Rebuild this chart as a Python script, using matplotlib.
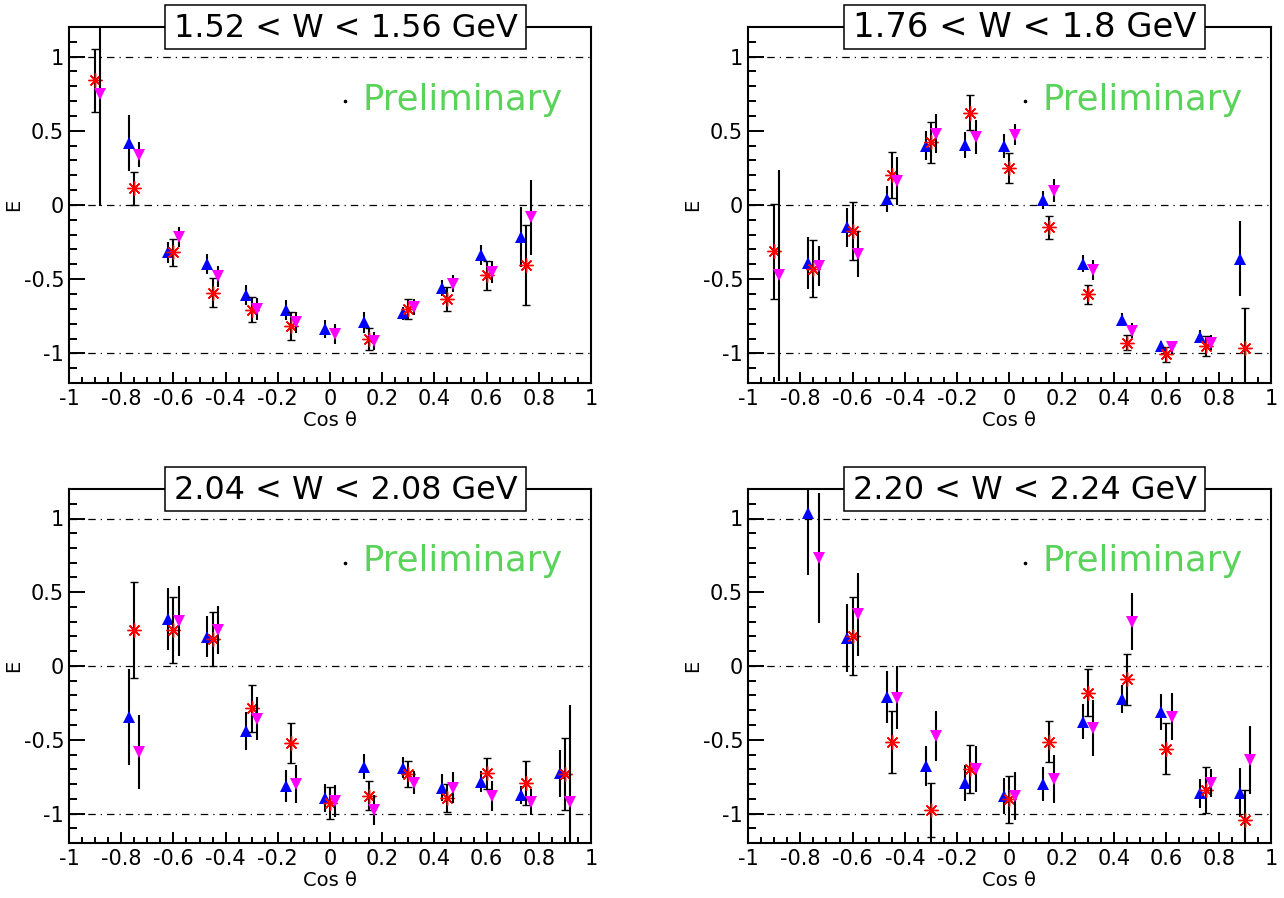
import numpy as np
import matplotlib
matplotlib.use("Agg")
import matplotlib.pyplot as plt
from matplotlib.patches import Rectangle

plt.rcParams['font.family'] = ['DejaVu Sans']
plt.rcParams['axes.unicode_minus'] = False

nan = np.nan

# cos(theta) bin centres
cos_bins = [-0.9, -0.75, -0.6, -0.45, -0.3, -0.15, 0.0, 0.15, 0.3, 0.45, 0.6, 0.75, 0.9]

titles = ["1.52 < W < 1.56 GeV", "1.76 < W < 1.8 GeV",
          "2.04 < W < 2.08 GeV", "2.20 < W < 2.24 GeV"]

# ---- 1.52 < W < 1.56 GeV
w1_blue = [nan, 0.42, -0.32, -0.40, -0.605, -0.71, -0.835, -0.79, -0.73, -0.56, -0.335, -0.215, nan]
w1_blue_err = [nan, 0.19, 0.073, 0.068, 0.068, 0.068, 0.062, 0.071, 0.045, 0.056, 0.068, 0.20, nan]
w1_red = [0.84, 0.113, -0.32, -0.59, -0.705, -0.818, nan, -0.904, -0.70, -0.633, -0.475, -0.407, nan]
w1_red_err = [0.215, 0.11, 0.09, 0.096, 0.087, 0.094, nan, 0.073, 0.068, 0.079, 0.10, 0.27, nan]
w1_mag = [0.746, 0.339, -0.215, -0.481, -0.70, -0.79, -0.87, -0.915, -0.689, -0.531, -0.452, -0.084, nan]
w1_mag_err = [0.75, 0.083, 0.07, 0.071, 0.075, 0.071, 0.068, 0.062, 0.054, 0.056, 0.073, 0.25, nan]

# ---- 1.76 < W < 1.8 GeV
w2_blue = [nan, -0.391, -0.151, 0.041, 0.40, 0.407, 0.40, 0.034, -0.395, -0.773, -0.949, -0.888, -0.362]
w2_blue_err = [nan, 0.178, 0.131, 0.09, 0.10, 0.087, 0.081, 0.062, 0.056, 0.045, 0.03, 0.043, 0.253]
w2_red = [-0.312, -0.429, -0.174, 0.203, 0.423, 0.621, 0.251, -0.151, -0.603, -0.927, -1.006, -0.949, -0.967]
w2_red_err = [0.32, 0.19, 0.194, 0.153, 0.138, 0.118, 0.10, 0.079, 0.064, 0.052, 0.051, 0.066, 0.27]
w2_mag = [-0.475, -0.411, -0.328, 0.163, 0.481, 0.459, 0.475, 0.097, -0.436, -0.847, -0.96, -0.927, nan]
w2_mag_err = [0.71, 0.133, 0.156, 0.16, 0.132, 0.113, 0.07, 0.075, 0.068, 0.049, 0.045, 0.048, nan]

# ---- 2.04 < W < 2.08 GeV
w3_blue = [nan, -0.343, 0.316, 0.197, -0.441, -0.814, -0.893, -0.682, -0.689, -0.825, -0.784, -0.875, -0.728]
w3_blue_err = [nan, 0.325, 0.21, 0.139, 0.127, 0.11, 0.095, 0.085, 0.071, 0.09, 0.073, 0.062, 0.158]
w3_red = [nan, 0.244, 0.244, 0.185, -0.287, -0.524, -0.927, -0.881, -0.734, -0.893, -0.728, -0.795, -0.734]
w3_red_err = [nan, 0.325, 0.226, 0.182, 0.16, 0.136, 0.11, 0.098, 0.087, 0.096, 0.107, 0.15, 0.245]
w3_mag = [nan, -0.583, 0.305, 0.244, -0.357, -0.802, -0.915, -0.976, -0.791, -0.825, -0.881, -0.922, -0.922]
w3_mag_err = [nan, 0.254, 0.24, 0.16, 0.145, 0.13, 0.107, 0.10, 0.079, 0.104, 0.10, 0.09, 0.66]

# ---- 2.20 < W < 2.24 GeV
w4_blue = [nan, 1.04, 0.192, -0.208, -0.678, -0.791, -0.881, -0.802, -0.377, -0.226, -0.31, -0.863, -0.859]
w4_blue_err = [nan, 0.425, 0.23, 0.176, 0.136, 0.122, 0.125, 0.116, 0.119, 0.095, 0.122, 0.098, 0.167]
w4_red = [nan, nan, 0.203, -0.513, -0.976, -0.696, -0.904, -0.513, -0.181, -0.09, -0.56, -0.843, -1.044]
w4_red_err = [nan, nan, 0.263, 0.211, 0.18, 0.162, 0.158, 0.141, 0.158, 0.173, 0.175, 0.156, 0.20]
w4_mag = [nan, 0.734, 0.35, -0.215, -0.475, -0.696, -0.881, -0.768, -0.418, 0.301, -0.343, -0.791, -0.637]
w4_mag_err = [nan, 0.44, 0.28, 0.215, 0.17, 0.155, 0.164, 0.164, 0.189, 0.195, 0.162, 0.096, 0.233]

panels = [
    (w1_blue, w1_blue_err, w1_red, w1_red_err, w1_mag, w1_mag_err),
    (w2_blue, w2_blue_err, w2_red, w2_red_err, w2_mag, w2_mag_err),
    (w3_blue, w3_blue_err, w3_red, w3_red_err, w3_mag, w3_mag_err),
    (w4_blue, w4_blue_err, w4_red, w4_red_err, w4_mag, w4_mag_err),
]

x_tick_vals = [-1, -0.8, -0.6, -0.4, -0.2, 0, 0.2, 0.4, 0.6, 0.8, 1]
x_tick_labels = ["-1", "-0.8", "-0.6", "-0.4", "-0.2", "0", "0.2", "0.4", "0.6", "0.8", "1"]
y_tick_vals = [-1, -0.5, 0, 0.5, 1]
y_tick_labels = ["-1", "-0.5", "0", "0.5", "1"]

W, H = 1284, 898
fig = plt.figure(figsize=(W / 100, H / 100), dpi=100)

# pad frames in pixels: left, top, right, bottom
frames = [(69, 27, 591, 383), (748, 27, 1271, 383),
          (69, 489, 591, 843), (748, 489, 1271, 843)]

x = np.array(cos_bins)
title_texts = []

for frame, data, title in zip(frames, panels, titles):
    l, t, r, b = frame
    ax_w, ax_h = r - l, b - t
    ax = fig.add_axes([l / W, 1 - b / H, ax_w / W, ax_h / H])
    ax.set_xlim(-1, 1)
    ax.set_ylim(-1.2, 1.2)
    for sp in ax.spines.values():
        sp.set_linewidth(1.5)

    for yref in (1, 0, -1):
        ax.axhline(yref, color='black', lw=0.9, ls=(0, (6, 4, 1, 4)), zorder=1)

    blue, blue_e, red, red_e, mag, mag_e = [np.array(d, dtype=float) for d in data]

    common = dict(ecolor='black', elinewidth=1.5, capsize=2.6, capthick=1.5, ls='none')
    ax.errorbar(x - 0.02, blue, yerr=blue_e, marker='^', ms=8.6, color='#0000ff',
                mec='#0000ff', mew=0, zorder=3, **common)
    ax.errorbar(x, red, yerr=red_e, marker=(8, 2, 0), ms=10, color='#ff0000',
                mec='#ff0000', mew=1.0, zorder=4, **common)
    ax.errorbar(x + 0.02, mag, yerr=mag_e, marker='v', ms=8.6, color='#ff00ff',
                mec='#ff00ff', mew=0, zorder=5, **common)

    ax.set_xticks(x_tick_vals)
    ax.set_xticklabels(x_tick_labels)
    ax.set_xticks(np.arange(-1, 1.0001, 0.05), minor=True)
    ax.set_yticks(y_tick_vals)
    ax.set_yticklabels(y_tick_labels)
    ax.set_yticks(np.arange(-1.1, 1.1001, 0.1), minor=True)
    ax.tick_params(axis='both', which='both', direction='in', top=False, right=False,
                   width=1.4, labelsize=15)
    ax.tick_params(axis='x', which='major', length=8, pad=4)
    ax.tick_params(axis='x', which='minor', length=4.3)
    ax.tick_params(axis='y', which='major', length=11.5, pad=3.5)
    ax.tick_params(axis='y', which='minor', length=5.8)

    # axis titles: "Cos θ" top 28 px below the frame, "E" right edge 46 px left of it
    ax.set_xlabel("Cos θ", fontsize=14, va='top')
    ax.xaxis.set_label_coords(0.5, -28 / ax_h)
    ax.set_ylabel("E", fontsize=14)
    ax.yaxis.set_label_coords(-46 / ax_w, 0.5)

    # "Preliminary" stamp with its small marker
    ax.plot([0.529], [0.792], marker='o', ms=1.6, color='black', transform=ax.transAxes,
            clip_on=False, zorder=6)
    ax.text(0.563, 0.767, "Preliminary", transform=ax.transAxes, fontsize=25.5,
            color='#5ad35a', ha='left', va='baseline', zorder=6)

    # title box straddling the top of the frame
    bx0 = 96 / ax_w
    bx1 = 457 / ax_w
    by0 = 1 - 22 / ax_h
    by1 = 1 + 22 / ax_h
    ax.add_patch(Rectangle((bx0, by0), bx1 - bx0, by1 - by0, transform=ax.transAxes,
                           facecolor='white', edgecolor='black', lw=1.1,
                           clip_on=False, zorder=10))
    txt = ax.text((bx0 + bx1) / 2, 1 - 9.7 / ax_h, title, transform=ax.transAxes,
                  fontsize=23, ha='center', va='baseline', zorder=11, clip_on=False)
    title_texts.append(txt)

# scale every title so that it fills its box width the same way
fig.canvas.draw()
renderer = fig.canvas.get_renderer()
target = 344.0
for txt in title_texts:
    w = txt.get_window_extent(renderer).width
    txt.set_fontsize(txt.get_fontsize() * target / w)

fig.savefig("out.png", dpi=100)
